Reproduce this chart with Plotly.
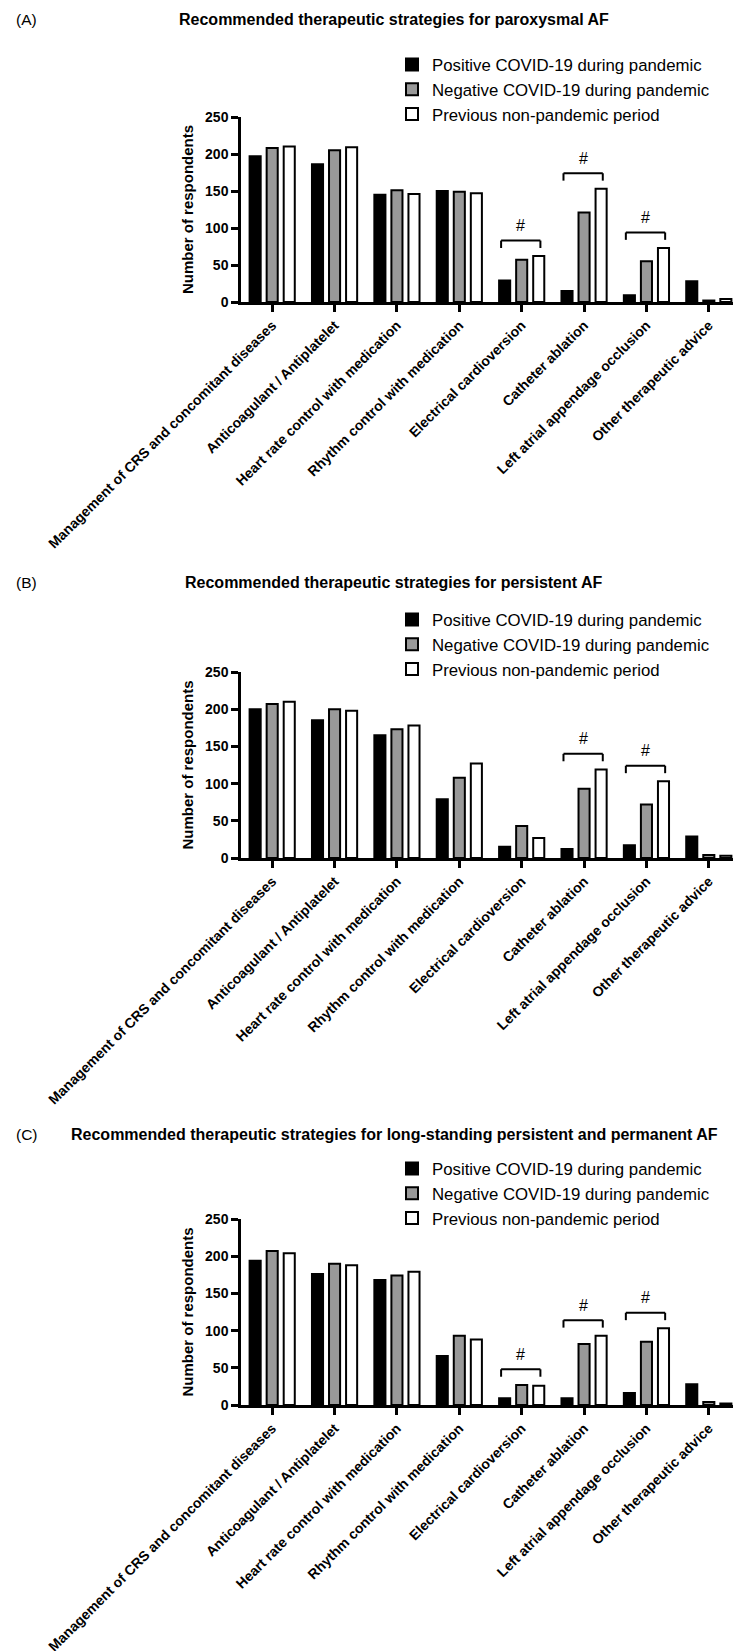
import plotly.graph_objects as go

# ---------------- data ----------------
categories = [
    "Management of CRS and concomitant diseases",
    "Anticoagulant / Antiplatelet",
    "Heart rate control with medication",
    "Rhythm control with medication",
    "Electrical cardioversion",
    "Catheter ablation",
    "Left atrial appendage occlusion",
    "Other therapeutic advice",
]
series_names = [
    "Positive COVID-19 during pandemic",
    "Negative COVID-19 during pandemic",
    "Previous non-pandemic period",
]

panel_labels = ["(A)", "(B)", "(C)"]
panel_titles = [
    "Recommended therapeutic strategies for paroxysmal AF",
    "Recommended therapeutic strategies for persistent AF",
    "Recommended therapeutic strategies for long-standing persistent and permanent AF",
]

a_positive = [197, 186, 145, 150, 29, 15, 9, 28]
a_negative = [208, 205, 151, 149, 57, 121, 55, 2]
a_previous = [210, 209, 146, 147, 62, 153, 73, 4]
a_significant = ["Electrical cardioversion", "Catheter ablation", "Left atrial appendage occlusion"]

b_positive = [200, 185, 165, 79, 15, 12, 17, 29]
b_negative = [207, 200, 173, 108, 43, 93, 72, 4]
b_previous = [210, 198, 178, 127, 27, 119, 103, 3]
b_significant = ["Catheter ablation", "Left atrial appendage occlusion"]

c_positive = [194, 176, 168, 66, 9, 9, 16, 28]
c_negative = [207, 190, 174, 93, 27, 82, 85, 4]
c_previous = [204, 188, 179, 88, 26, 93, 103, 2]
c_significant = ["Electrical cardioversion", "Catheter ablation", "Left atrial appendage occlusion"]

y_ticks = [0, 50, 100, 150, 200, 250]
y_title = "Number of respondents"
sig_mark = "#"

# ---------------- styling ----------------
W, H = 741, 1651
FONT = "Liberation Sans, Arial, sans-serif"
fills = ["#000000", "#999999", "#ffffff"]

panel_px = [(109, 294), (664, 850), (1211, 1397)]
title_px = [12, 574, 1126]
legend_top_px = [39, 594, 1143]
legend_left_px = 384
x_left_px, x_right_px = 233, 732

panels = [
    (a_positive, a_negative, a_previous, a_significant),
    (b_positive, b_negative, b_previous, b_significant),
    (c_positive, c_negative, c_previous, c_significant),
]

fig = go.Figure()
layout_updates = {}
shapes = []
annotations = []

for i, (pos, neg, prev, sig) in enumerate(panels):
    sfx = "" if i == 0 else str(i + 1)
    xa, ya = "x" + sfx, "y" + sfx
    leg = "legend" + sfx
    for name, vals, fill in zip(series_names, [pos, neg, prev], fills):
        fig.add_trace(go.Bar(
            x=categories, y=vals, name=name,
            marker=dict(color=fill, line=dict(color="#000000", width=2)),
            xaxis=xa, yaxis=ya, legend=leg, showlegend=True,
        ))
    top, bot = panel_px[i]
    layout_updates["xaxis" + sfx] = dict(
        domain=[x_left_px / W, x_right_px / W], anchor=ya, automargin=False,
        type="category", range=[-0.5, len(categories) - 0.5],
        showline=True, linecolor="black", linewidth=2.5,
        ticks="outside", ticklen=7, tickwidth=2.5, tickcolor="black",
        tickangle=-45, showgrid=False, zeroline=False,
        tickfont=dict(family=FONT, size=14, color="black", weight="bold"),
    )
    layout_updates["yaxis" + sfx] = dict(
        domain=[1 - bot / H, 1 - top / H], anchor=xa, automargin=False,
        range=[0, 250], tickvals=y_ticks,
        showline=True, linecolor="black", linewidth=2.5,
        ticks="outside", ticklen=7, tickwidth=2.5, tickcolor="black",
        showgrid=False, zeroline=False,
        tickfont=dict(family=FONT, size=14, color="black", weight="bold"),
        title=dict(text=y_title, standoff=8,
                   font=dict(family=FONT, size=15, color="black", weight="bold")),
    )
    layout_updates[leg] = dict(
        x=legend_left_px / W, y=1 - legend_top_px[i] / H, xanchor="left", yanchor="top",
        bgcolor="rgba(0,0,0,0)", borderwidth=0, tracegroupgap=0,
        font=dict(family=FONT, size=16.8, color="black"), traceorder="normal",
        itemclick=False, itemdoubleclick=False,
    )
    annotations.append(dict(
        xref="paper", yref="paper", x=6 / W, y=1 - title_px[i] / H,
        text=panel_labels[i], showarrow=False, xanchor="left", yanchor="middle",
        font=dict(family=FONT, size=15.5, color="black"),
    ))
    annotations.append(dict(
        xref="paper", yref="paper", x=386 / W, y=1 - title_px[i] / H,
        text=panel_titles[i], showarrow=False, xanchor="center", yanchor="middle",
        font=dict(family=FONT, size=16, color="black", weight="bold"),
    ))
    for cat in sig:
        k = categories.index(cat)
        ytop = max(pos[k], neg[k], prev[k]) + 21
        leg_drop = 10
        xl, xr = k - 0.33, k + 0.30
        line = dict(color="black", width=2)
        shapes.append(dict(type="line", xref=xa, yref=ya, x0=xl, x1=xr, y0=ytop, y1=ytop, line=line))
        shapes.append(dict(type="line", xref=xa, yref=ya, x0=xl, x1=xl, y0=ytop - leg_drop, y1=ytop, line=line))
        shapes.append(dict(type="line", xref=xa, yref=ya, x0=xr, x1=xr, y0=ytop - leg_drop, y1=ytop, line=line))
        annotations.append(dict(
            xref=xa, yref=ya, x=(xl + xr) / 2, y=ytop + 6, text=sig_mark,
            showarrow=False, xanchor="center", yanchor="bottom",
            font=dict(family=FONT, size=16, color="black"),
        ))

fig.update_layout(
    width=W, height=H,
    margin=dict(l=0, r=0, t=0, b=0, autoexpand=False),
    paper_bgcolor="white", plot_bgcolor="white",
    barmode="group", bargap=0.18, bargroupgap=0.35,
    shapes=shapes, annotations=annotations,
    font=dict(family=FONT, color="black"),
    **layout_updates,
)

fig.write_html("out.html")
